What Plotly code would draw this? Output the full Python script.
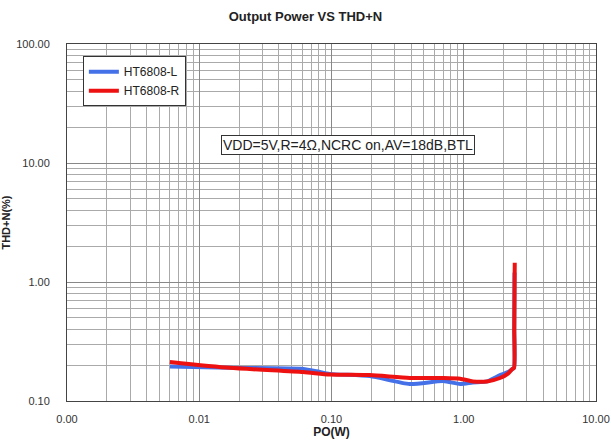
import plotly.graph_objects as go

# Data
po_L = [0.006, 0.017, 0.061, 0.077, 0.097, 0.195, 0.39, 0.70, 0.94, 1.17, 1.5, 1.88, 2.16, 2.32, 2.40, 2.41, 2.42]
thd_L = [0.195, 0.19, 0.186, 0.178, 0.169, 0.162, 0.139, 0.147, 0.139, 0.143, 0.146, 0.165, 0.175, 0.185, 0.19, 0.4, 1.2]

po_R = [0.006, 0.017, 0.061, 0.097, 0.195, 0.39, 0.70, 0.94, 1.17, 1.5, 1.88, 2.16, 2.32, 2.40, 2.41, 2.43]
thd_R = [0.213, 0.19, 0.175, 0.167, 0.165, 0.156, 0.156, 0.154, 0.146, 0.146, 0.156, 0.17, 0.185, 0.19, 0.4, 1.45]

x_ticks = [0.001, 0.01, 0.1, 1, 10]
x_ticktext = ["0.00", "0.01", "0.10", "1.00", "10.00"]
y_ticks = [0.1, 1, 10, 100]
y_ticktext = ["0.10", "1.00", "10.00", "100.00"]

x_minor = [m * d for d in [0.001, 0.01, 0.1, 1] for m in range(2, 10)]
y_minor = [m * d for d in [0.1, 1, 10] for m in range(2, 10)]

FONT = "Liberation Sans, Arial, sans-serif"

fig = go.Figure()
fig.add_trace(go.Scatter(x=po_L, y=thd_L, mode="lines", name="HT6808-L",
                         line=dict(color="#4470e8", width=4, shape="spline", smoothing=0.6)))
fig.add_trace(go.Scatter(x=po_R, y=thd_R, mode="lines", name="HT6808-R",
                         line=dict(color="#ee1111", width=4, shape="spline", smoothing=0.6)))

fig.update_layout(
    width=611, height=441,
    margin=dict(l=67, r=15, t=44, b=40),
    paper_bgcolor="white", plot_bgcolor="white",
    font=dict(family=FONT, color="#333333", size=11),
    title=dict(text="<b>Output Power VS THD+N</b>", x=0.5, xref="container", xanchor="center",
               y=0.963, yref="container", yanchor="middle",
               font=dict(size=13, color="#222222")),
    showlegend=True,
    legend=dict(x=0.03, y=0.966, xanchor="left", yanchor="top",
                bgcolor="white", bordercolor="#333333", borderwidth=1,
                font=dict(size=12, color="#222222"), tracegroupgap=0,
                itemwidth=30),
    xaxis=dict(type="log", range=[-3, 1], tickvals=x_ticks, ticktext=x_ticktext,
               showgrid=True, gridcolor="#888888", gridwidth=1,
               minor=dict(tickvals=x_minor, showgrid=True, gridcolor="#aaaaaa", gridwidth=1),
               showline=True, linecolor="#444444", linewidth=1, mirror=True,
               ticks="", ticklabelstandoff=8, automargin=False,
               tickfont=dict(size=11, color="#333333"),
               title=dict(text="<b>PO(W)</b>", font=dict(size=12, color="#222222"), standoff=2),
               zeroline=False),
    yaxis=dict(type="log", range=[-1, 2], tickvals=y_ticks, ticktext=y_ticktext,
               showgrid=True, gridcolor="#888888", gridwidth=1,
               minor=dict(tickvals=y_minor, showgrid=True, gridcolor="#aaaaaa", gridwidth=1),
               showline=True, linecolor="#444444", linewidth=1, mirror=True,
               ticks="", ticklabelstandoff=14, automargin=False,
               tickfont=dict(size=11, color="#333333"),
               title=dict(text="<b>THD+N(%)</b>", font=dict(size=11, color="#222222"), standoff=5),
               zeroline=False),
    annotations=[dict(text="VDD=5V,R=4Ω,NCRC on,AV=18dB,BTL", x=0.532, y=0.718,
                      xref="paper", yref="paper", xanchor="center", yanchor="middle",
                      showarrow=False,
                      font=dict(size=14, color="#222222"),
                      bgcolor="white", bordercolor="#333333", borderwidth=1, borderpad=1)],
)

fig.write_html("out.html", config={"displayModeBar": False},
               post_script="document.body.style.margin='0';document.body.style.padding='0';")
